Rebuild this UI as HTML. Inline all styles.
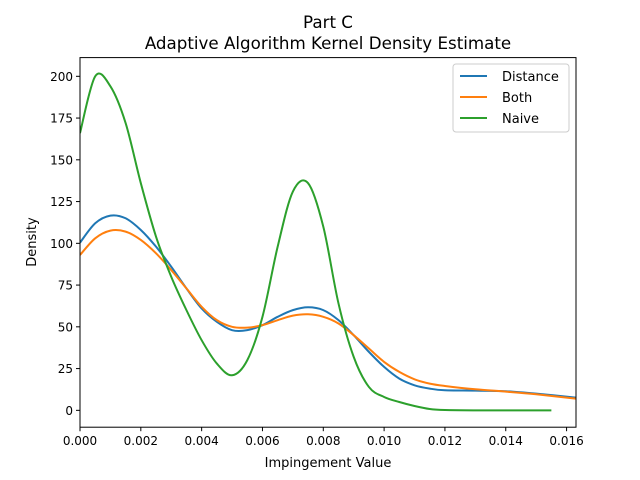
<!DOCTYPE html>
<html><head><meta charset="utf-8"><style>
body{margin:0;background:#fff}
svg{display:block;font-family:"DejaVu Sans","Liberation Sans",sans-serif}
</style></head><body>
<svg id="chart" width="640" height="480">
<rect width="640" height="480" fill="#fff"/>
<text x="328" y="28" text-anchor="middle" font-size="16.7">Part C</text>
<text x="328" y="49" text-anchor="middle" font-size="16.7">Adaptive Algorithm Kernel Density Estimate</text>
<g id="plot"></g>
<text x="328" y="467" text-anchor="middle" font-size="13">Impingement Value</text>
<text transform="translate(36,242) rotate(-90)" text-anchor="middle" font-size="13">Density</text>
<g>
<rect x="453" y="64" width="116" height="68" rx="3" fill="#fff" stroke="#ccc"/>
<line x1="460" y1="76" x2="487" y2="76" stroke="#1f77b4" stroke-width="2"/>
<text x="502" y="81" font-size="13">Distance</text>
<line x1="460" y1="97" x2="487" y2="97" stroke="#ff7f0e" stroke-width="2"/>
<text x="502" y="102" font-size="13">Both</text>
<line x1="460" y1="118" x2="487" y2="118" stroke="#2ca02c" stroke-width="2"/>
<text x="502" y="123" font-size="13">Naive</text>
</g>
</svg>
<script>
const distX=[0,0.0005,0.001,0.0015,0.002,0.0025,0.003,0.0035,0.004,0.0045,0.005,0.0055,0.006,0.0065,0.007,0.0075,0.008,0.0085,0.009,0.0095,0.010,0.0105,0.011,0.0115,0.012,0.013,0.014,0.015,0.0163];
const distY=[100.4,112,116.6,115,108,98,86,73,61,53,48,48,51,56,60,61.7,60,54,45,35,26,19,15,13,12,11.8,11.4,10,7.6];
const bothX=distX;
const bothY=[93,103,107.6,107,102,94,84,73,62,54,50,49.5,51,54,56.7,57.5,56,52,45,37,29,23,18.6,16,14.6,12.6,11.2,9.6,7];
const naiveX=[0,0.0005,0.001,0.0015,0.002,0.0025,0.003,0.0035,0.004,0.0045,0.005,0.0055,0.006,0.0065,0.007,0.0075,0.008,0.0085,0.009,0.0095,0.010,0.0105,0.011,0.0115,0.012,0.013,0.014,0.0155];
const naiveY=[166,200,194,172,136,104,80,60,42,28,21,30,56,98,131,136,110,64,32,14,8,5,2.6,0.8,0.2,0,0,0];
const xTicks=[0,0.002,0.004,0.006,0.008,0.010,0.012,0.014,0.016];
const xTickLabels=["0.000","0.002","0.004","0.006","0.008","0.010","0.012","0.014","0.016"];
const yTicks=[0,25,50,75,100,125,150,175,200];

const L=80,R=576,T=57.6,B=427.2,xmin=0,xmax=0.01631,ymin=-10.1,ymax=211.2;
const sx=v=>L+(v-xmin)/(xmax-xmin)*(R-L);
const sy=v=>B-(v-ymin)/(ymax-ymin)*(B-T);
const NS="http://www.w3.org/2000/svg";
const g=document.getElementById('plot');
function mk(t,a){const e=document.createElementNS(NS,t);for(const k in a)e.setAttribute(k,a[k]);g.appendChild(e);return e;}
function path(xs,ys){const p=xs.map((x,i)=>[sx(x),sy(ys[i])]);let d=`M${p[0][0]},${p[0][1]}`;
for(let i=0;i<p.length-1;i++){const p0=p[i-1]||p[i],p1=p[i],p2=p[i+1],p3=p[i+2]||p2;
d+=` C${p1[0]+(p2[0]-p0[0])/6},${p1[1]+(p2[1]-p0[1])/6} ${p2[0]-(p3[0]-p1[0])/6},${p2[1]-(p3[1]-p1[1])/6} ${p2[0]},${p2[1]}`;}return d;}
const cp=document.createElementNS(NS,'clipPath');cp.id='clip';const cr=document.createElementNS(NS,'rect');
cr.setAttribute('x',L);cr.setAttribute('y',T);cr.setAttribute('width',R-L);cr.setAttribute('height',B-T);cp.appendChild(cr);g.appendChild(cp);
[[distX,distY,'#1f77b4','distance-line'],[bothX,bothY,'#ff7f0e','both-line'],[naiveX,naiveY,'#2ca02c','naive-line']].forEach(s=>{
const e=mk('path',{d:path(s[0],s[1]),fill:'none',stroke:s[2],'stroke-width':2,'clip-path':'url(#clip)'});

});
xTicks.forEach((v,i)=>{const x=sx(v);mk('line',{x1:x,y1:B,x2:x,y2:B+4,stroke:'#000'});
const t=mk('text',{x:x,y:B+18,'text-anchor':'middle','font-size':12});t.textContent=xTickLabels[i];

});
yTicks.forEach(v=>{const y=sy(v);mk('line',{x1:L-4,y1:y,x2:L,y2:y,stroke:'#000'});
const t=mk('text',{x:L-7,y:y+4.5,'text-anchor':'end','font-size':12});t.textContent=v;

});
const fr=mk('rect',{x:L,y:T,width:R-L,height:B-T,fill:'none',stroke:'#000','stroke-width':1});


</script>
</body></html>
